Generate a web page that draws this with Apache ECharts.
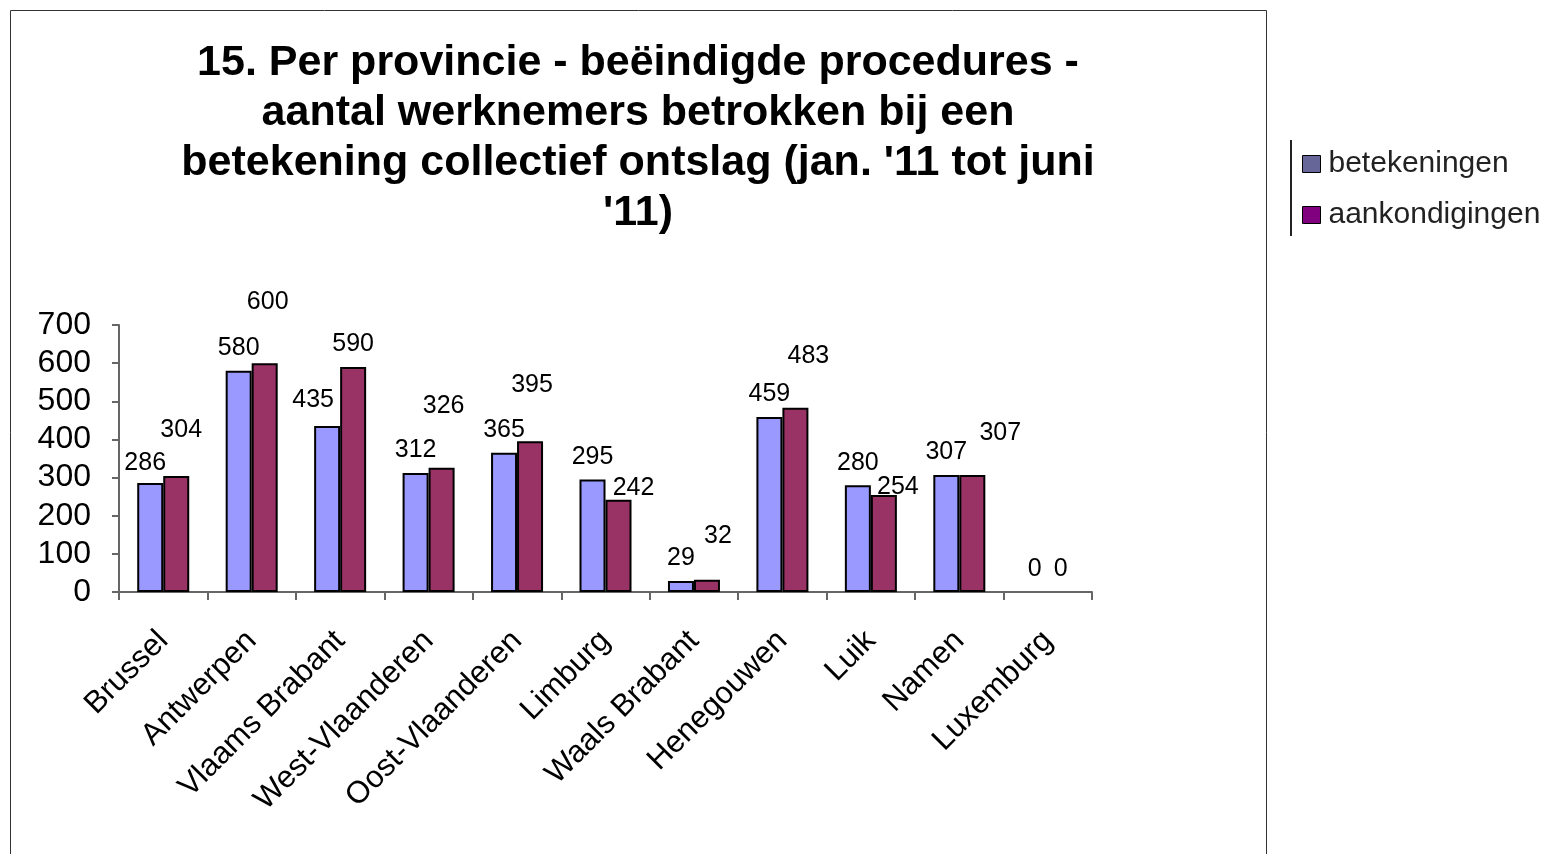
<!DOCTYPE html>
<html>
<head>
<meta charset="utf-8">
<script src="https://cdn.jsdelivr.net/npm/echarts@6/dist/echarts.min.js"></script>
<style>
html,body{margin:0;padding:0;background:#fff;}
#chart{width:1546px;height:854px;}
</style>
</head>
<body>
<div id="chart"></div>
<script>
const titleText = "15. Per provincie - beëindigde procedures -\naantal werknemers betrokken bij een\nbetekening collectief ontslag (jan. '11 tot juni\n'11)";
const categories = ["Brussel","Antwerpen","Vlaams Brabant","West-Vlaanderen","Oost-Vlaanderen","Limburg","Waals Brabant","Henegouwen","Luik","Namen","Luxemburg"];
const seriesNames = ["betekeningen","aankondigingen"];
const betekeningen = [286,580,435,312,365,295,29,459,280,307,0];
const aankondigingen = [304,600,590,326,395,242,32,483,254,307,0];
const yTicks = [0,100,200,300,400,500,600,700];
// label nudges (pixels) as in the reference's hand-placed labels
const betLabelShift = [[-5,3],[0,0],[-14,-3],[0,0],[0,0],[0,0],[0,0],[0,0],[0,0],[0,0],[0,0]];
const aankLabelShift = [[5,-23],[3,-39],[0,0],[2,-39],[2,-34],[15,11],[11,-21],[13,-29],[14,14],[28,-19],[0,0]];

const chart = echarts.init(document.getElementById('chart'), null, {renderer:'canvas'});
const FONT = 'Liberation Sans, Arial, sans-serif';

function mkData(vals, shifts){
  return vals.map((v,i)=>{
    const d = {value:v, label:{offset:shifts[i]}};
    if (v === 0) d.itemStyle = {borderWidth:0};
    return d;
  });
}

const option = {
  backgroundColor:'#fff',
  animation:false,
  title:{
    text:titleText,
    left:633, top:33, textAlign:'center',
    textStyle:{fontFamily:FONT, fontSize:43, fontWeight:'bold', color:'#000', lineHeight:50}
  },
  legend:{
    orient:'vertical', left:1297, top:144,
    itemWidth:18, itemHeight:17, itemGap:21,
    icon:'rect',
    textStyle:{fontFamily:FONT, fontSize:30, color:'#222', padding:[0,0,0,3]},
    data:[
      {name:seriesNames[0], itemStyle:{color:'#666699', borderColor:'#000', borderWidth:1}},
      {name:seriesNames[1], itemStyle:{color:'#800080', borderColor:'#000', borderWidth:1}}
    ]
  },
  grid:{left:119, right:454, top:325, bottom:262, containLabel:false},
  xAxis:{
    type:'category', data:categories, boundaryGap:true,
    axisLine:{lineStyle:{color:'#666', width:2}},
    axisTick:{show:true, length:8, inside:false, lineStyle:{color:'#666', width:2}},
    axisLabel:{rotate:45, margin:44, fontFamily:FONT, fontSize:31, color:'#000', interval:0}
  },
  yAxis:{
    type:'value', min:yTicks[0], max:yTicks[yTicks.length-1], interval:100,
    splitLine:{show:false},
    axisLine:{show:true, lineStyle:{color:'#666', width:2}},
    axisTick:{show:true, length:7, lineStyle:{color:'#666', width:2}},
    axisLabel:{margin:28, fontFamily:FONT, fontSize:32, color:'#000'}
  },
  series:[
    {
      name:seriesNames[0], type:'bar', barWidth:26, barGap:'0%',
      data:mkData(betekeningen, betLabelShift),
      itemStyle:{color:'#9999FF', borderColor:'#000', borderWidth:2},
      label:{show:true, position:'top', distance:10, fontFamily:FONT, fontSize:25, color:'#000'}
    },
    {
      name:seriesNames[1], type:'bar', barWidth:26, barGap:'0%',
      data:mkData(aankondigingen, aankLabelShift),
      itemStyle:{color:'#993366', borderColor:'#000', borderWidth:2},
      label:{show:true, position:'top', distance:10, fontFamily:FONT, fontSize:25, color:'#000'}
    }
  ],
  graphic:[
    {type:'rect', silent:true, z:-1, shape:{x:10.5, y:10.5, width:1256, height:900}, style:{fill:null, stroke:'#333', lineWidth:1}},
    {type:'line', silent:true, shape:{x1:1291, y1:140, x2:1291, y2:236}, style:{stroke:'#222', lineWidth:2}}
  ]
};
chart.setOption(option);
</script>
</body>
</html>
